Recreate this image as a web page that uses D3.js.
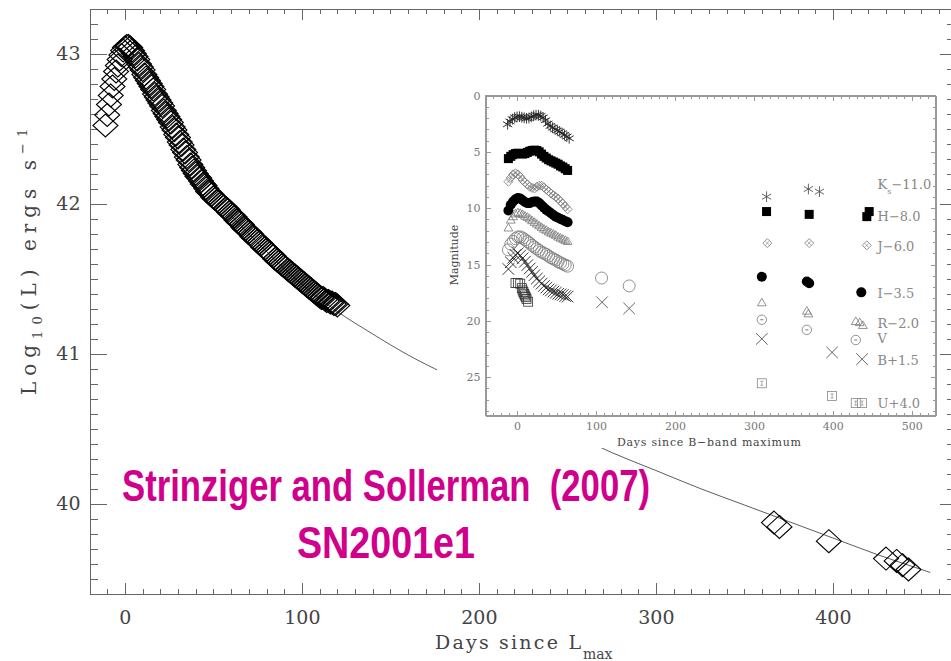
<!DOCTYPE html>
<html>
<head>
<meta charset="utf-8">
<title>SN2001el bolometric light curve</title>
<script src="https://cdn.jsdelivr.net/npm/d3@7"></script>
<style>
  body { margin: 0; background: #fff; }
  svg { display: block; }
  .ax path, .ax line { stroke: #666; stroke-width: 1; fill: none; shape-rendering: crispEdges; }
  .ax text { font-family: "DejaVu Serif", serif; font-size: 19px; fill: #444; }
  .inax path, .inax line { stroke: #999; stroke-width: 1; fill: none; shape-rendering: crispEdges; }
  .inax text { font-family: "DejaVu Serif", serif; font-size: 11px; fill: #777; }
  .lab { font-family: "DejaVu Serif", serif; fill: #444; }
  .ilab { font-family: "DejaVu Serif", serif; fill: #888; font-size: 13px; }
  .title { font-family: "Liberation Sans Narrow", "Arial Narrow", "Liberation Sans", sans-serif;
           font-weight: bold; font-size: 45px; fill: #d1008c; white-space: pre; }
</style>
</head>
<body>
<div id="chart"></div>
<script>
// ---- main panel: bolometric luminance, log10(L) ----
var lumDays = d3.range(-11, 121);   // daily sampling
var lumVals = [
  42.52,42.59,42.66,42.72,42.78,42.83,42.88,42.92,42.96,42.99,43.02,
  43.04,43.05,43.05,43.04,43.02,43.00,42.98,42.96,42.93,42.91,
  42.89,42.86,42.84,42.82,42.80,42.78,42.76,42.73,42.71,42.69,
  42.67,42.65,42.62,42.60,42.58,42.56,42.54,42.51,42.49,42.46,
  42.44,42.41,42.39,42.36,42.34,42.31,42.29,42.26,42.24,42.22,
  42.20,42.18,42.17,42.15,42.13,42.12,42.10,42.08,42.07,42.06,
  42.04,42.03,42.02,42.01,42.00,41.99,41.98,41.97,41.96,41.94,
  41.93,41.92,41.91,41.89,41.88,41.87,41.86,41.84,41.83,41.82,
  41.81,41.80,41.78,41.77,41.76,41.75,41.74,41.73,41.71,41.70,
  41.69,41.68,41.67,41.66,41.65,41.63,41.62,41.61,41.60,41.59,
  41.58,41.57,41.56,41.55,41.54,41.53,41.52,41.51,41.50,41.49,
  41.48,41.47,41.46,41.45,41.44,41.43,41.42,41.41,41.40,41.39,
  41.38,41.37,41.37,41.36,41.35,41.35,41.34,41.34,41.33,41.33,
  41.32
];
var lateDays = [366.7, 369.8, 397.7, 430, 436, 439.3, 442.7];
var lateLum  = [39.873, 39.844, 39.749, 39.633, 39.617, 39.589, 39.56];
var modelDays = [60, 80, 100, 120, 140, 160, 180, 200, 225, 250, 275, 300, 325, 350, 375, 400, 425, 450, 455];
var modelLum  = [41.92, 41.68, 41.46, 41.28, 41.13, 40.99, 40.87, 40.76, 40.62, 40.48, 40.34, 40.22, 40.10, 39.99, 39.88, 39.77, 39.66, 39.56, 39.54];
var dayTicks = [0, 100, 200, 300, 400];
var lumTicks = [40, 41, 42, 43];

// ---- inset: multi-band light curves (magnitude, offset) ----
var kDays = [-12,-9,-6,-3,0,3,6,9,12,15,18,21,24,27,30,33,36,39,42,45,48,51,54,57,60,63,66, 316,369,383];
var kMags = [2.56,2.3,2.1,1.95,1.9,1.88,1.92,1.98,2.02,2.0,1.9,1.8,1.74,1.75,1.82,1.95,2.2,2.5,2.7,2.85,3.0,3.1,3.2,3.35,3.5,3.65,3.8, 8.98,8.3,8.53];
var hDays = [-11,-8,-5,-2,1,4,7,10,13,16,19,22,25,28,31,34,37,40,43,46,49,52,55,58,61,64, 316,370,443,446];
var hMags = [5.6,5.4,5.25,5.15,5.12,5.15,5.2,5.15,5.05,4.95,4.88,4.85,4.88,5.0,5.2,5.4,5.55,5.7,5.8,5.9,6.0,6.1,6.25,6.35,6.5,6.65, 10.3,10.55,10.75,10.3];
var jDays = [-11,-8,-5,-2,1,4,7,10,13,16,19,22,25,28,31,34,37,40,43,46,49,52,55,58,61,64, 317,370,443];
var jMags = [7.65,7.3,7.0,6.9,7.0,7.2,7.5,7.7,7.9,8.1,8.2,8.25,8.1,8.0,8.0,8.15,8.35,8.5,8.7,8.85,9.0,9.15,9.4,9.6,9.85,10.1, 13.1,13.1,13.3];
var iDays = [-11,-8,-5,-2,1,4,7,10,13,16,19,22,25,28,31,34,37,40,43,46,49,52,55,58,61,64, 310,367,370,436];
var iMags = [10.2,9.7,9.4,9.2,9.1,9.15,9.3,9.45,9.55,9.55,9.45,9.4,9.4,9.55,9.75,9.95,10.15,10.3,10.45,10.6,10.75,10.85,10.95,11.05,11.15,11.25, 16.08,16.5,16.66,17.47];
var rDays = [-11,-8,-5,-2,1,4,7,10,13,16,19,22,25,28,31,34,37,40,43,46,49,52,55,58,61,64, 310,367,369,429,434,438];
var rMags = [11.8,11.1,10.8,10.55,10.45,10.5,10.6,10.75,10.85,11.0,11.15,11.3,11.45,11.6,11.75,11.9,12.0,12.15,12.25,12.35,12.45,12.6,12.7,12.8,12.9,13.0, 18.44,19.18,19.42,20.1,20.2,20.45];
var vDays = [-11,-8,-5,-2,1,4,7,10,13,16,19,22,25,28,31,34,37,40,43,46,49,52,55,58,61,64, 107,142, 310,367,429];
var vMags = [13.7,13.2,12.95,12.7,12.55,12.55,12.65,12.8,12.95,13.1,13.3,13.45,13.6,13.75,13.9,14.0,14.1,14.25,14.4,14.5,14.6,14.75,14.85,14.95,15.05,15.15, 16.2,16.9, 19.9,20.8,21.7];
var bDays = [-11,-8,-5,-2,1,4,7,10,13,16,19,22,25,28,31,34,37,40,43,46,49,52,55,58,61,64, 107.6,142, 310,399,437];
var bMags = [15.4,14.8,14.4,14.15,14.0,14.2,14.45,14.75,15.05,15.35,15.65,15.95,16.25,16.5,16.7,16.9,17.05,17.2,17.3,17.4,17.5,17.6,17.65,17.7,17.8,17.85, 18.35,18.9, 21.6,22.8,23.4];
var uDays = [-2,1,4,6,7,8,9,10,11,12,14, 310,399,429,437];
var uMags = [16.65,16.65,16.7,17.1,17.3,17.45,17.6,17.75,17.9,18.05,18.3, 25.54,26.66,27.3,27.3];
var bandNames  = ["K", "H\u22128.0", "J\u22126.0", "I\u22123.5", "R\u22122.0", "V", "B+1.5", "U+4.0"];
var bandLabelMag = [7.94, 10.78, 13.4, 17.55, 20.27, 21.55, 23.53, 27.3];
var inDayTicks = [0, 100, 200, 300, 400, 500];
var inMagTicks = [0, 5, 10, 15, 20, 25];

var W = 951, H = 661;
var svg = d3.select("#chart").append("svg").attr("width", W).attr("height", H);
svg.append("rect").attr("width", W).attr("height", H).attr("fill", "#fff");

var x = d3.scaleLinear().domain([-20, 467]).range([89.5, 951.5]);
var y = d3.scaleLinear().domain([39.4, 43.3]).range([593.5, 8.5]);

// main axes
var minorDays = d3.range(-20, 467, 10).filter(function(d) { return d % 100 !== 0; });
var minorLum = d3.range(394, 434).map(function(d) { return d / 10; }).filter(function(d) { return d % 1 !== 0; });

svg.append("g").attr("class", "ax").attr("transform", "translate(0,593.5)")
  .call(d3.axisBottom(x).tickValues(dayTicks).tickSize(-11).tickSizeOuter(0).tickPadding(17).tickFormat(d3.format("d")));
svg.append("g").attr("class", "ax").attr("transform", "translate(0,593.5)")
  .call(d3.axisBottom(x).tickValues(minorDays).tickSize(-5).tickSizeOuter(0).tickFormat(""));
svg.append("g").attr("class", "ax").attr("transform", "translate(0,8.5)")
  .call(d3.axisTop(x).tickValues(dayTicks).tickSize(-11).tickSizeOuter(0).tickFormat(""));
svg.append("g").attr("class", "ax").attr("transform", "translate(0,8.5)")
  .call(d3.axisTop(x).tickValues(minorDays).tickSize(-5).tickSizeOuter(0).tickFormat(""));
svg.append("g").attr("class", "ax").attr("transform", "translate(89.5,0)")
  .call(d3.axisLeft(y).tickValues(lumTicks).tickSize(-17).tickSizeOuter(0).tickPadding(9).tickFormat(d3.format("d")));
svg.append("g").attr("class", "ax").attr("transform", "translate(89.5,0)")
  .call(d3.axisLeft(y).tickValues(minorLum).tickSize(-8).tickSizeOuter(0).tickFormat(""));
svg.append("g").attr("class", "ax").attr("transform", "translate(951.5,0)")
  .call(d3.axisRight(y).tickValues(lumTicks).tickSize(-12).tickSizeOuter(0).tickFormat(""));
svg.append("g").attr("class", "ax").attr("transform", "translate(951.5,0)")
  .call(d3.axisRight(y).tickValues(minorLum).tickSize(-5).tickSizeOuter(0).tickFormat(""));

// axis titles
svg.append("text").attr("class", "lab").attr("x", 435).attr("y", 649)
  .attr("font-size", 19).attr("textLength", 146).text("Days since L");
svg.append("text").attr("class", "lab").attr("x", 583).attr("y", 659)
  .attr("font-size", 14).text("max");

var yl = svg.append("text").attr("class", "lab").attr("font-size", 20).attr("letter-spacing", 6)
  .attr("transform", "translate(36,395) rotate(-90)");
yl.append("tspan").text("Log");
yl.append("tspan").attr("font-size", 13).attr("dy", 6).text("10");
yl.append("tspan").attr("dy", -6).text("(L) ergs s");
yl.append("tspan").attr("font-size", 13).attr("dy", -9).text("\u22121");

// model line
var line = d3.line().x(function(d) { return x(d[0]); }).y(function(d) { return y(d[1]); }).curve(d3.curveMonotoneX);
svg.append("path").datum(d3.zip(modelDays, modelLum)).attr("d", line)
  .attr("fill", "none").attr("stroke", "#333").attr("stroke-width", 0.8);

// diamonds
var dia = "M0,-11.5L12.5,0L0,11.5L-12.5,0Z";
svg.append("g").selectAll("path.d").data(d3.zip(lumDays, lumVals).concat(d3.zip(lateDays, lateLum)))
  .enter().append("path").attr("class", "d").attr("d", dia)
  .attr("transform", function(d) { return "translate(" + x(d[0]) + "," + y(d[1]) + ")"; })
  .attr("fill", "none").attr("stroke", "#000").attr("stroke-width", 1.1);

// ---- inset (pasted picture with its own white backing) ----
var xi = d3.scaleLinear().domain([-40, 530]).range([485.5, 935.5]);
var yi = d3.scaleLinear().domain([0, 28.4]).range([95.5, 415.5]);
var ins = svg.append("g");
ins.append("rect").attr("x", 437).attr("y", 84).attr("width", 502).attr("height", 364).attr("fill", "#fff");
ins.append("rect").attr("x", 485.5).attr("y", 95.5).attr("width", 450).attr("height", 320)
  .attr("fill", "#fff").attr("stroke", "#999");

var inMinorDays = d3.range(-40, 531, 10).filter(function(d) { return d % 100 !== 0; });
var inMinorMags = d3.range(0, 29).filter(function(d) { return d % 5 !== 0; });
function inAxis(gen, tx, ty, vals, size, lab, pad) {
  ins.append("g").attr("class", "inax").attr("transform", "translate(" + tx + "," + ty + ")")
    .call(gen.tickValues(vals).tickSize(size).tickSizeOuter(0).tickPadding(pad || 3).tickFormat(lab ? d3.format("d") : ""));
}
inAxis(d3.axisBottom(xi), 0, 415.5, inDayTicks, -5, true, 7);
inAxis(d3.axisBottom(xi), 0, 415.5, inMinorDays, -3);
inAxis(d3.axisTop(xi), 0, 95.5, inDayTicks, -5);
inAxis(d3.axisTop(xi), 0, 95.5, inMinorDays, -3);
inAxis(d3.axisLeft(yi), 485.5, 0, inMagTicks, -5, true, 5);
inAxis(d3.axisLeft(yi), 485.5, 0, inMinorMags, -3);
inAxis(d3.axisRight(yi), 935.5, 0, inMagTicks, -5);
inAxis(d3.axisRight(yi), 935.5, 0, inMinorMags, -3);

ins.append("text").attr("class", "lab").attr("font-size", 11).attr("fill", "#777")
  .attr("text-anchor", "middle").attr("transform", "translate(458,255) rotate(-90)").text("Magnitude");
ins.append("text").attr("class", "lab").attr("font-size", 11).attr("fill", "#777")
  .attr("x", 617).attr("y", 446).attr("textLength", 184).text("Days since B\u2212band maximum");

function put(sel, dd, mm) {
  return sel.selectAll(null).data(d3.zip(dd, mm)).enter().append("g")
    .attr("transform", function(d) { return "translate(" + xi(d[0]) + "," + yi(d[1]) + ")"; });
}
function early(d) { return d[0] < 100; }

// K: asterisks
put(ins, kDays, kMags).append("path").attr("d", d3.symbol(d3.symbolAsterisk, 80))
  .attr("fill", "none").attr("stroke", function(d) { return early(d) ? "#222" : "#555"; }).attr("stroke-width", 0.9);
// H: filled squares
put(ins, hDays, hMags).append("rect").attr("x", -4.5).attr("y", -4.5).attr("width", 9).attr("height", 9).attr("fill", "#000");
// J: diamonds with a centre mark
var gj = put(ins, jDays, jMags);
gj.append("path").attr("d", "M0,-4.5L4.5,0L0,4.5L-4.5,0Z").attr("fill", "none").attr("stroke", "#777").attr("stroke-width", 0.8);
gj.append("path").attr("d", "M-1.8,-1.8L1.8,1.8M-1.8,1.8L1.8,-1.8").attr("stroke", "#777").attr("stroke-width", 0.6);
// I: filled circles
put(ins, iDays, iMags).append("circle").attr("r", 5).attr("fill", "#000");
// R: open triangles
put(ins, rDays, rMags).append("path").attr("d", d3.symbol(d3.symbolTriangle2, 55))
  .attr("fill", "none").attr("stroke", "#777").attr("stroke-width", 0.8);
// V: circles with a centre dash
var gv = put(ins, vDays, vMags);
gv.append("circle").attr("r", function(d) { return d[0] > 300 ? 4.7 : 6; })
  .attr("fill", "none").attr("stroke", "#777").attr("stroke-width", 0.8);
gv.filter(function(d) { return d[0] > 300; }).append("path").attr("d", "M-1.5,0H1.5").attr("stroke", "#777");
// B: crosses
put(ins, bDays, bMags).append("path").attr("d", d3.symbol(d3.symbolTimes, 90))
  .attr("fill", "none").attr("stroke", function(d) { return early(d) ? "#222" : "#555"; }).attr("stroke-width", 0.9);
// U: squares with an I-bar
var gu = put(ins, uDays, uMags);
gu.append("rect").attr("x", -4.5).attr("y", -4.5).attr("width", 9).attr("height", 9)
  .attr("fill", "none").attr("stroke", function(d) { return early(d) ? "#333" : "#888"; }).attr("stroke-width", 0.8);
gu.filter(function(d) { return d[0] > 300; }).append("path").attr("d", "M-1.5,-2H1.5M0,-2V2M-1.5,2H1.5")
  .attr("stroke", "#888").attr("stroke-width", 0.7);

// band labels
var labX = xi(456.6);
bandNames.forEach(function(n, i) {
  var t = ins.append("text").attr("class", "ilab").attr("x", labX).attr("y", yi(bandLabelMag[i]) + 4.5);
  if (n === "K") {
    t.attr("fill", "#333");
    t.append("tspan").text("K");
    t.append("tspan").attr("font-size", 8).attr("dy", 5).text("s");
    t.append("tspan").attr("dy", -5).text("\u221211.0");
  } else {
    t.text(n);
  }
});

// annotation
svg.append("text").attr("class", "title").attr("x", 122).attr("y", 501)
  .attr("textLength", 528).attr("lengthAdjust", "spacingAndGlyphs").text("Strinziger and Sollerman  (2007)");
svg.append("text").attr("class", "title").attr("x", 297).attr("y", 558)
  .attr("textLength", 178).attr("lengthAdjust", "spacingAndGlyphs").text("SN2001e1");
</script>
</body>
</html>
